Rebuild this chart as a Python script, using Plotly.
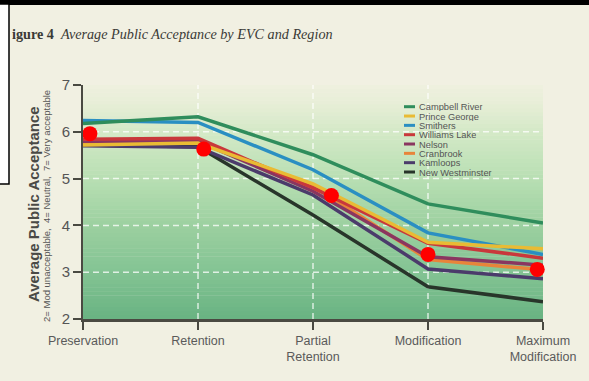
import plotly.graph_objects as go

# ---------------- data ----------------
categories = ["Preservation", "Retention", "Partial<br>Retention", "Modification", "Maximum<br>Modification"]
regions = ["Campbell River", "Prince George", "Smithers", "Williams Lake",
           "Nelson", "Cranbrook", "Kamloops", "New Westminster"]
campbell_river  = [6.18, 6.32, 5.51, 4.46, 4.05]
prince_george   = [5.72, 5.76, 4.89, 3.64, 3.50]
smithers        = [6.24, 6.20, 5.19, 3.84, 3.38]
williams_lake   = [5.84, 5.86, 4.80, 3.62, 3.30]
nelson          = [5.80, 5.80, 4.73, 3.33, 3.15]
cranbrook       = [5.77, 5.79, 4.85, 3.27, 3.05]
kamloops        = [5.70, 5.67, 4.65, 3.07, 2.86]
new_westminster = [5.72, 5.68, 4.22, 2.69, 2.37]
series = [campbell_river, prince_george, smithers, williams_lake,
          nelson, cranbrook, kamloops, new_westminster]
colors = ["#2f8d5c", "#e9bb34", "#2a8fc2", "#c9383b",
          "#8a3660", "#e8843a", "#4b3b6b", "#28352a"]
red_dot_x = [0.06, 1.05, 2.16, 3.00, 3.95]
red_dot_y = [5.96, 5.63, 4.64, 3.38, 3.06]
y_ticks = [2, 3, 4, 5, 6, 7]

# ---------------- layout constants ----------------
W, H = 589, 381
ML, MR, MT, MB = 83, 46, 85, 62
PW, PH = W - ML - MR, H - MT - MB
BG = "#f1f0e2"


def px_x(p):
    return (p - ML) / PW


def px_y(p):
    return (H - MB - p) / PH


x_idx = list(range(len(categories)))

fig = go.Figure()
order = list(range(len(regions)))[::-1]
for i in order:
    fig.add_trace(go.Scatter(
        x=x_idx, y=series[i], mode="lines", name=regions[i],
        line=dict(color=colors[i], width=3.5), showlegend=False,
        cliponaxis=False))

fig.add_trace(go.Scatter(
    x=red_dot_x, y=red_dot_y, mode="markers",
    marker=dict(color="#ff0000", size=15), showlegend=False, cliponaxis=False))

shapes = []
# gradient background of the plot area
stops = [(2.0, (0x69, 0xb3, 0x82)), (3.0, (0x83, 0xc3, 0x93)), (4.0, (0x9c, 0xd0, 0xa0)),
         (5.0, (0xb8, 0xdf, 0xb3)), (6.0, (0xd4, 0xe9, 0xc7)), (6.6, (0xe7, 0xee, 0xd7)),
         (7.0, (0xef, 0xf0, 0xdf))]


def col_at(v):
    for (a, ca), (b, cb) in zip(stops[:-1], stops[1:]):
        if a <= v <= b:
            t = (v - a) / (b - a)
            c = [round(ca[k] + (cb[k] - ca[k]) * t) for k in range(3)]
            return "rgb(%d,%d,%d)" % tuple(c)
    return "rgb(%d,%d,%d)" % stops[-1][1]


N = 60
for k in range(N):
    y0 = 2 + 5 * k / N
    y1 = 2 + 5 * (k + 1) / N
    shapes.append(dict(type="rect", xref="x", yref="y", x0=0, x1=4.02, y0=y0, y1=y1 + 0.01,
                       fillcolor=col_at((y0 + y1) / 2), line=dict(width=0), layer="below"))
# dashed grid
for gx in [1, 2, 3]:
    shapes.append(dict(type="line", xref="x", yref="y", x0=gx, x1=gx, y0=2, y1=7,
                       line=dict(color="rgba(255,255,255,0.75)", width=1.5, dash="6px,4px"),
                       layer="below"))
for gy in [3, 4, 5, 6]:
    shapes.append(dict(type="line", xref="x", yref="y", x0=0, x1=4, y0=gy, y1=gy,
                       line=dict(color="rgba(255,255,255,0.75)", width=1.5, dash="6px,4px"),
                       layer="below"))

# manual compact legend
annotations = []
for i, name in enumerate(regions):
    py = 106.7 + i * 9.33
    shapes.append(dict(type="line", xref="paper", yref="paper",
                       x0=px_x(404), x1=px_x(415), y0=px_y(py), y1=px_y(py),
                       line=dict(color=colors[i], width=3), layer="above"))
    annotations.append(dict(text=name, xref="paper", yref="paper", x=px_x(418), y=px_y(py),
                            xanchor="left", yanchor="middle", showarrow=False,
                            height=9, valign="middle", borderpad=0,
                            font=dict(family="Liberation Sans, Arial", size=9.3, color="#555555")))

# black top bar and white box on the left
shapes.append(dict(type="rect", xref="paper", yref="paper", x0=px_x(-5), x1=px_x(W + 5),
                   y0=px_y(5), y1=px_y(-5), fillcolor="#000000", line=dict(width=0), layer="above"))
shapes.append(dict(type="rect", xref="paper", yref="paper", x0=px_x(-5), x1=px_x(9),
                   y0=px_y(184), y1=px_y(4), fillcolor="#ffffff",
                   line=dict(color="#000000", width=1.5), layer="above"))

# title
annotations.append(dict(text="<b>igure 4</b>&nbsp;&nbsp;<i>Average Public Acceptance by EVC and Region</i>",
                        xref="paper", yref="paper", x=px_x(10), y=px_y(34),
                        xanchor="left", yanchor="middle", showarrow=False,
                        font=dict(family="Liberation Serif, DejaVu Serif", size=14.2, color="#3a3a36")))
# y axis titles
annotations.append(dict(text="<b>Average Public Acceptance</b>", xref="paper", yref="paper",
                        x=px_x(33), y=px_y(204), textangle=-90, showarrow=False,
                        xanchor="center", yanchor="middle",
                        font=dict(family="Liberation Sans, Arial", size=15, color="#4a4a46")))
annotations.append(dict(text="2= Mod unacceptable,&nbsp;&nbsp;4= Neutral,&nbsp;&nbsp;7= Very acceptable",
                        xref="paper", yref="paper",
                        x=px_x(46), y=px_y(206), textangle=-90, showarrow=False,
                        xanchor="center", yanchor="middle",
                        font=dict(family="Liberation Sans, Arial", size=9.5, color="#555555")))

axis_col = "#4a4a42"
fig.update_layout(
    width=W, height=H,
    margin=dict(l=ML, r=MR, t=MT, b=MB),
    paper_bgcolor=BG, plot_bgcolor="rgba(0,0,0,0)",
    shapes=shapes, annotations=annotations, showlegend=False,
    xaxis=dict(range=[0, 4], tickvals=x_idx, ticktext=categories, showgrid=False, zeroline=False,
               showline=True, linecolor=axis_col, linewidth=3, ticks="outside", ticklen=8,
               tickwidth=1.5, tickcolor=axis_col,
               tickfont=dict(family="Liberation Sans, Arial", size=12.5, color="#5a5a5a")),
    yaxis=dict(range=[2, 7], tickvals=y_ticks, showgrid=False, zeroline=False,
               showline=True, linecolor=axis_col, linewidth=2, ticks="outside", ticklen=8,
               tickwidth=1.5, tickcolor=axis_col,
               tickfont=dict(family="Liberation Sans, Arial", size=15, color="#555555")),
)

fig.write_html("out.html")
